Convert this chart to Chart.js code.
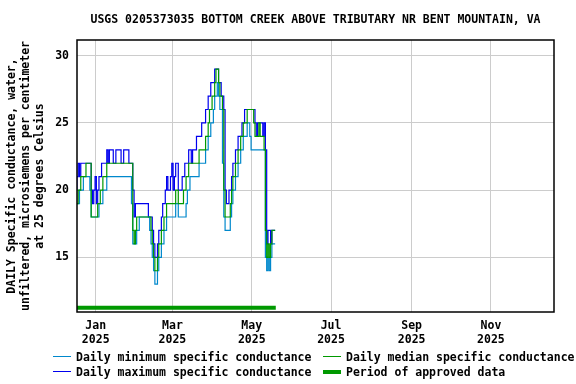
<!DOCTYPE html>
<html>
<head>
<meta charset="utf-8">
<script src="https://cdn.jsdelivr.net/npm/chart.js@4/dist/chart.umd.min.js"></script>
<style>
  body { margin: 0; background: #fff; }
  #wrap { position: relative; width: 576px; height: 384px; font: bold 11.5px "DejaVu Sans Mono", monospace; color: #000; }
  #title { position: absolute; left: 77px; width: 477px; top: 12px; text-align: center; font-size: 11.5px; white-space: nowrap; }
  .leg { position: absolute; white-space: nowrap; line-height: 14px; }
  .sw { position: absolute; width: 18px; height: 1px; }
</style>
</head>
<body>
<div id="wrap">
  <canvas id="chart" width="576" height="384"></canvas>
  <div id="title">USGS 0205373035 BOTTOM CREEK ABOVE TRIBUTARY NR BENT MOUNTAIN, VA</div>
  <div class="sw" style="left:53px;top:356px;background:#0088cc"></div>
  <div class="leg" style="left:76px;top:350px">Daily minimum specific conductance</div>
  <div class="sw" style="left:323px;top:356px;background:#009900"></div>
  <div class="leg" style="left:346px;top:350px">Daily median specific conductance</div>
  <div class="sw" style="left:53px;top:371px;background:#0000ee"></div>
  <div class="leg" style="left:76px;top:365px">Daily maximum specific conductance</div>
  <div class="sw" style="left:323px;top:370px;height:4px;background:#009900"></div>
  <div class="leg" style="left:346px;top:365px">Period of approved data</div>
</div>
<script>
// days are counted from Jan 1 2025 (day 0)
var firstDay = -15

var minValues = [
  19,19,19,20,20,20,21,21,21,21,
  21,20,18,18,18,18,18,18,19,19,
  19,20,20,20,21,21,21,21,21,21,
  21,21,21,21,21,21,21,21,21,21,
  21,21,21,19,16,16,16,17,17,18,
  18,18,18,18,18,18,18,17,16,15,
  14,13,13,14,15,15,16,16,17,17,
  18,18,18,18,18,18,18,19,19,18,
  18,18,18,18,18,19,20,20,21,21,
  21,21,21,21,21,22,22,22,22,22,
  23,23,24,24,25,25,26,27,27,28,
  27,26,26,22,18,17,17,17,17,18,
  19,20,20,21,21,22,22,23,23,24,
  24,24,25,25,24,23,23,23,23,23,
  23,23,23,23,23,23,15,14,15,14,
  15,16,16,16
]

var medianValues = [
  19,19,20,20,21,21,21,21,22,22,
  22,22,18,18,18,18,18,19,19,20,
  20,21,21,21,22,22,22,22,22,22,
  22,22,22,22,22,22,22,22,22,22,
  22,22,22,22,17,16,17,18,18,18,
  18,18,18,18,18,18,18,18,17,16,
  15,14,14,15,16,16,17,17,18,18,
  19,19,19,19,19,19,19,20,20,19,
  19,19,19,20,20,21,21,22,22,22,
  22,22,22,22,22,23,23,23,23,23,
  24,24,25,26,26,27,27,28,29,29,
  28,27,27,26,20,18,18,18,18,19,
  20,21,21,22,22,23,23,24,24,25,
  25,25,26,26,26,26,26,25,24,24,
  24,25,24,24,24,23,17,15,16,15,
  16,17,17,17
]

var maxValues = [
  20,21,22,21,22,22,22,22,22,22,
  22,22,20,19,20,21,19,20,21,21,
  22,22,22,22,23,22,23,23,23,22,
  22,23,23,23,23,22,22,23,23,23,
  23,22,22,22,20,18,19,19,19,19,
  19,19,19,19,19,19,18,18,18,17,
  16,15,15,16,17,17,18,19,19,20,
  21,20,20,21,22,20,21,22,22,20,
  20,20,21,21,22,22,22,23,23,22,
  23,23,23,24,24,24,24,25,25,25,
  26,26,27,27,28,28,28,29,29,29,
  28,28,27,27,26,20,19,19,20,20,
  21,22,22,23,23,24,24,24,25,25,
  26,26,26,26,26,26,26,26,25,24,
  25,25,25,25,24,25,23,16,17,17,
  16,17,17,17
]

// approved period, drawn as a thick bar near the bottom
var approvedDays = [-15.5, 138.5]
var approvedLevel = 11.25

var tickDays = [0, 59, 120, 181, 243, 304]
var tickMonths = ['Jan', 'Mar', 'May', 'Jul', 'Sep', 'Nov']
var tickYear = '2025'
var yTicks = [15, 20, 25, 30]

function toPoints(values) {
  return values.map(function (v, i) { return { x: firstDay + i, y: v } })
}

var font = { family: 'DejaVu Sans Mono', size: 11.5, weight: 'bold' }

// box around plot area
var frame = {
  id: 'frame',
  afterDraw: function (c) {
    var a = c.chartArea
    var g = c.ctx
    g.save()
    g.strokeStyle = '#000'
    g.lineWidth = 1.5
    g.strokeRect(a.left, a.top, a.right - a.left, a.bottom - a.top)
    g.restore()
  }
}

var ctx = document.getElementById('chart').getContext('2d')

var chart = new Chart(ctx, {
  type: 'line',
  data: {
    datasets: [{
      label: 'Daily median specific conductance',
      data: toPoints(medianValues),
      borderColor: '#009900',
      borderWidth: 1.2,
      stepped: 'middle',
      pointRadius: 0,
      order: 1
    }, {
      label: 'Daily minimum specific conductance',
      data: toPoints(minValues),
      borderColor: '#0088cc',
      borderWidth: 1.2,
      stepped: 'middle',
      pointRadius: 0,
      order: 2
    }, {
      label: 'Daily maximum specific conductance',
      data: toPoints(maxValues),
      borderColor: '#0000ee',
      borderWidth: 1.2,
      stepped: 'middle',
      pointRadius: 0,
      order: 3
    }, {
      label: 'Period of approved data',
      data: approvedDays.map(function (d) { return { x: d, y: approvedLevel } }),
      borderColor: '#009900',
      borderWidth: 4,
      pointRadius: 0,
      order: 0
    }]
  },
  options: {
    responsive: false,
    animation: false,
    layout: { padding: { top: 40, right: 22, bottom: 32, left: 0 } },
    plugins: {
      legend: { display: false },
      title: { display: false },
      tooltip: { enabled: false }
    },
    scales: {
      x: {
        type: 'linear',
        min: -14.4,
        max: 352.5,
        afterBuildTicks: function (s) { s.ticks = tickDays.map(function (v) { return { value: v } }) },
        afterFit: function (s) { s.height = 40 },
        ticks: {
          autoSkip: false,
          maxRotation: 0,
          padding: 7,
          color: '#000',
          font: font,
          callback: function (v) { return [tickMonths[tickDays.indexOf(v)], tickYear] }
        },
        grid: { color: '#cccccc', lineWidth: 1, drawTicks: false },
        border: { display: false }
      },
      y: {
        min: 10.93,
        max: 31.17,
        afterBuildTicks: function (s) { s.ticks = yTicks.map(function (v) { return { value: v } }) },
        afterFit: function (s) { s.width = 77 },
        ticks: { padding: 8, color: '#000', font: font },
        grid: { color: '#cccccc', lineWidth: 1, drawTicks: false },
        border: { display: false },
        title: {
          display: true,
          text: ['DAILY Specific conductance, water,', 'unfiltered, microsiemens per centimeter', 'at 25 degrees Celsius'],
          color: '#000',
          font: { family: 'DejaVu Sans Mono', size: 11.5, weight: 'bold', lineHeight: 1.22 },
          padding: { top: 5, bottom: 0 }
        }
      }
    }
  },
  plugins: [frame]
})
</script>
</body>
</html>
